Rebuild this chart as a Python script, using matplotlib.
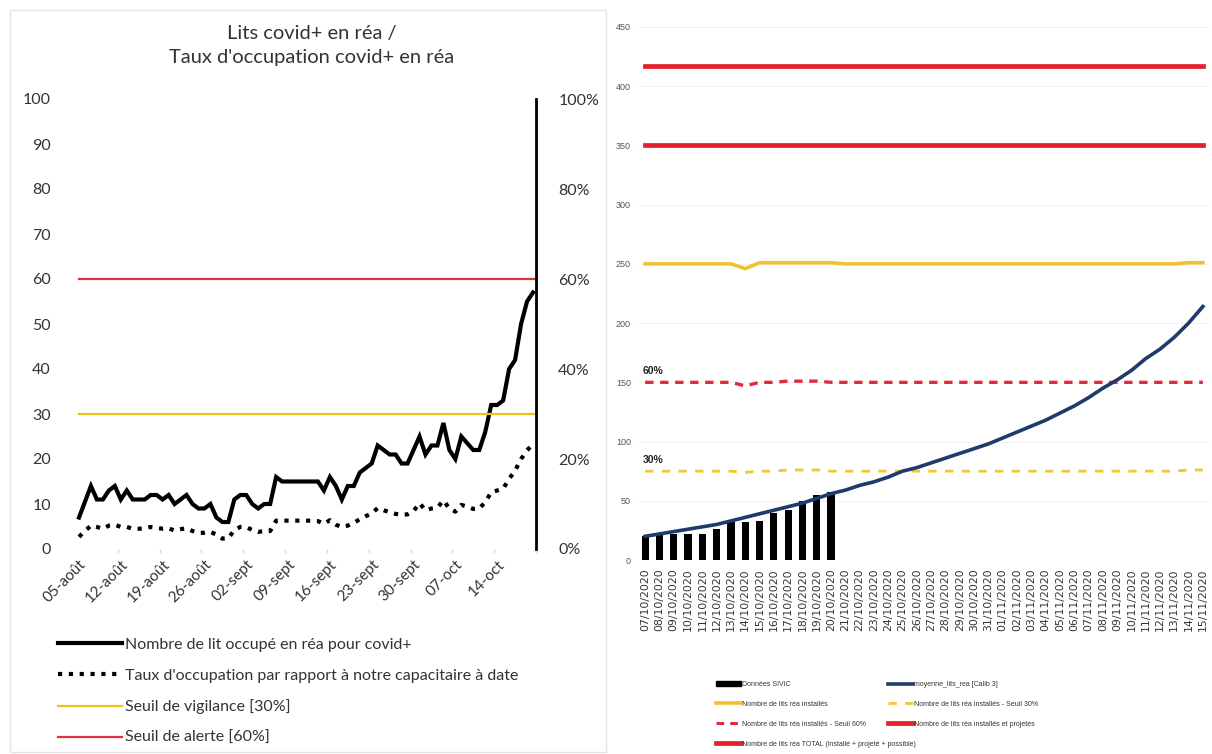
import matplotlib
matplotlib.use("Agg")
import matplotlib.pyplot as plt
from matplotlib.lines import Line2D
from matplotlib.patches import Patch, Rectangle
import numpy as np

# ---------------- LEFT CHART DATA ----------------
left_tick_labels = ['05-août', '12-août', '19-août', '26-août', '02-sept', '09-sept',
                    '16-sept', '23-sept', '30-sept', '07-oct', '14-oct']
lits_covid = [7, 10.5, 14, 11, 11, 13, 14, 11, 13, 11,
              11, 11, 12, 12, 11, 12, 10, 11, 12, 10,
              9, 9, 10, 7, 6, 6, 11, 12, 12, 10,
              9, 10, 10, 16, 15, 15, 15, 15, 15, 15,
              15, 13, 16, 14, 11, 14, 14, 17, 18, 19,
              23, 22, 21, 21, 19, 19, 22, 25, 21, 23,
              23, 28, 22, 20, 25, 23.5, 22, 22, 26, 32,
              32, 33, 40, 42, 50, 55, 57]
taux_occupation = [2.7, 4.0, 5.2, 4.9, 4.5, 5.2, 5.4, 4.9, 4.9, 4.5,
                   4.5, 4.6, 4.9, 4.7, 4.5, 4.6, 4.1, 4.4, 4.6, 4.0,
                   3.6, 3.6, 3.8, 3.2, 2.3, 2.4, 4.2, 4.9, 4.9, 4.2,
                   3.8, 4.0, 4.0, 6.3, 6.3, 6.3, 6.3, 6.3, 6.3, 6.3,
                   6.2, 5.6, 6.4, 5.4, 4.9, 5.2, 5.8, 6.6, 7.3, 7.9,
                   9.1, 8.6, 8.2, 7.8, 7.6, 7.7, 8.4, 10.2, 8.6, 9.0,
                   9.2, 10.8, 9.0, 8.3, 9.8, 9.4, 8.9, 9.0, 10.4, 12.6,
                   13.0, 13.4, 15.6, 17.4, 20.0, 21.9, 23.4]
seuil_vigilance = 30  # %
seuil_alerte = 60     # %

# ---------------- RIGHT CHART DATA ----------------
right_dates = ['07/10/2020', '08/10/2020', '09/10/2020', '10/10/2020', '11/10/2020',
               '12/10/2020', '13/10/2020', '14/10/2020', '15/10/2020', '16/10/2020',
               '17/10/2020', '18/10/2020', '19/10/2020', '20/10/2020', '21/10/2020',
               '22/10/2020', '23/10/2020', '24/10/2020', '25/10/2020', '26/10/2020',
               '27/10/2020', '28/10/2020', '29/10/2020', '30/10/2020', '31/10/2020',
               '01/11/2020', '02/11/2020', '03/11/2020', '04/11/2020', '05/11/2020',
               '06/11/2020', '07/11/2020', '08/11/2020', '09/11/2020', '10/11/2020',
               '11/11/2020', '12/11/2020', '13/11/2020', '14/11/2020', '15/11/2020']
donnees_sivic = [20, 23, 22, 22, 22, 26, 32, 32, 33, 40, 42, 50, 55, 57]
moyenne_lits_rea = [20, 22, 24, 26, 28, 30, 33, 36, 39, 42,
                    45, 48, 52, 56, 59, 63, 66, 70, 75, 78,
                    82, 86, 90, 94, 98, 103, 108, 113, 118, 124,
                    130, 137, 145, 152, 160, 170, 178, 188, 200, 214]
lits_installes = [250, 250, 250, 250, 250, 250, 250, 246, 251, 251,
                  251, 251, 251, 251, 250, 250, 250, 250, 250, 250,
                  250, 250, 250, 250, 250, 250, 250, 250, 250, 250,
                  250, 250, 250, 250, 250, 250, 250, 250, 251, 251]
seuil_30 = [75, 75, 75, 75, 75, 75, 75, 74, 75, 75,
            76, 76, 76, 75, 75, 75, 75, 75, 75, 75,
            75, 75, 75, 75, 75, 75, 75, 75, 75, 75,
            75, 75, 75, 75, 75, 75, 75, 75, 76, 76]
seuil_60 = [150, 150, 150, 150, 150, 150, 150, 147, 150, 150,
            151, 151, 151, 150, 150, 150, 150, 150, 150, 150,
            150, 150, 150, 150, 150, 150, 150, 150, 150, 150,
            150, 150, 150, 150, 150, 150, 150, 150, 150, 150]
lits_installes_projetes = 350
lits_total = 417

# ---------------- FIGURE ----------------
W, H = 1212, 754
fig = plt.figure(figsize=(W / 100, H / 100), dpi=100)
fig.patch.set_facecolor('white')

left_font = ['Lato', 'DejaVu Sans']
narrow = ['Liberation Sans', 'DejaVu Sans']

def fx(px):
    return px / W

def fy(py):
    return 1 - py / H

# faint chart border (left chart object)
fig.add_artist(Rectangle((fx(10), fy(752)), fx(596), (742) / H, transform=fig.transFigure,
                         fill=False, edgecolor='#e4e4e4', lw=1))

# ---------- left chart ----------
ax = fig.add_axes([fx(76), fy(549), fx(460), 450 / H])
days = np.arange(len(lits_covid))
ax.plot(days, lits_covid, color='black', lw=3, solid_joinstyle='miter', zorder=3)
ax.set_xlim(-0.5, len(lits_covid) - 0.5)
ax.set_ylim(0, 100)
ax.set_yticks(np.arange(0, 101, 10))
ax.tick_params(axis='y', length=0, pad=18, labelsize=11.5, labelcolor='#333333')
for lab in ax.get_yticklabels():
    lab.set_family(left_font)
ax.set_xticks(days[::7])
ax.set_xticklabels(left_tick_labels, rotation=45, ha='right', rotation_mode='anchor',
                   fontsize=11, color='#333333', family=left_font)
ax.set_xticks(np.arange(6.5, len(lits_covid), 7), minor=True)
ax.tick_params(axis='x', which='major', length=0, pad=6)
ax.tick_params(axis='x', which='minor', length=3, color='#d8d8d8', width=1)
for s in ['top', 'left', 'bottom', 'right']:
    ax.spines[s].set_visible(False)

ax2 = ax.twinx()
ax2.plot(days, taux_occupation, color='black', lw=3, linestyle=(0, (1, 1.6)), zorder=3)
ax2.axhline(seuil_vigilance, xmin=0.5 / len(days), xmax=1, color='#e8c31a', lw=1.6)
ax2.axhline(seuil_alerte, xmin=0.5 / len(days), xmax=1, color='#e0323e', lw=1.6)
ax2.set_ylim(0, 100)
ax2.set_yticks(np.arange(0, 101, 20))
ax2.set_yticklabels([f'{v}%' for v in range(0, 101, 20)], family=left_font,
                    fontsize=11.5, color='#333333')
ax2.tick_params(axis='y', length=0, pad=16)
for s in ['top', 'left', 'bottom']:
    ax2.spines[s].set_visible(False)
ax2.spines['right'].set_color('black')
ax2.spines['right'].set_linewidth(2)

fig.text(fx(312), fy(33), 'Lits covid+ en réa /', ha='center', va='center',
         fontsize=14.5, family=left_font, color='#333333')
fig.text(fx(312), fy(58), "Taux d'occupation covid+ en réa", ha='center', va='center',
         fontsize=14.5, family=left_font, color='#333333')

left_handles = [
    Line2D([], [], color='black', lw=3),
    Line2D([], [], color='black', lw=3, linestyle=(0, (1, 1.6))),
    Line2D([], [], color='#e8c31a', lw=1.6),
    Line2D([], [], color='#e0323e', lw=1.6),
]
left_labels = ['Nombre de lit occupé en réa pour covid+',
               "Taux d'occupation par rapport à notre capacitaire à date",
               'Seuil de vigilance [30%]',
               'Seuil de alerte [60%]']
fig.legend(left_handles, left_labels, loc='upper left', bbox_to_anchor=(fx(44), fy(623)),
           frameon=False, prop={'family': left_font, 'size': 11.5}, handlelength=4.0,
           handletextpad=0.2, labelspacing=1.05, labelcolor='#333333')

# ---------- right chart ----------
ar = fig.add_axes([fx(638), fy(560), fx(572), 533 / H])
x = np.arange(len(right_dates))
ar.bar(x[:len(donnees_sivic)], donnees_sivic, width=0.5, color='black', zorder=2)
ar.plot(x, moyenne_lits_rea, color='#1f3a6b', lw=2.6, zorder=4)
ar.plot(x, lits_installes, color='#f2c12e', lw=2.6, zorder=3)
ar.plot(x, seuil_30, color='#f0c832', lw=2.0, linestyle=(0, (3, 3)), zorder=3)
ar.plot(x, seuil_60, color='#e02a3f', lw=2.4, linestyle=(0, (2.5, 2)), zorder=3)
ar.plot(x, [lits_installes_projetes] * len(x), color='#e3202b', lw=3.4, zorder=3)
ar.plot(x, [lits_total] * len(x), color='#e3202b', lw=3.4, zorder=3)
ar.annotate('60%', xy=(x[0], seuil_60[0]), xytext=(-2, 6), textcoords='offset points',
            fontsize=7.5, fontweight='bold', family=narrow, color='#222222')
ar.annotate('30%', xy=(x[0], seuil_30[0]), xytext=(-2, 6), textcoords='offset points',
            fontsize=7.5, fontweight='bold', family=narrow, color='#222222')
ar.set_xlim(-0.5, len(x) - 0.5)
ar.set_ylim(0, 450)
ar.set_yticks(np.arange(0, 451, 50))
ar.tick_params(axis='y', length=0, pad=5, labelsize=6.5, labelcolor='#555555')
for lab in ar.get_yticklabels():
    lab.set_family(narrow)
ar.set_xticks(x)
ar.set_xticklabels(right_dates, rotation=90, fontsize=7.8, family='DejaVu Sans',
                   color='#333333')
ar.tick_params(axis='x', length=0, pad=6)
ar.yaxis.grid(True, color='#f2f2f2', lw=0.8)
ar.set_axisbelow(True)
for s in ['top', 'left', 'bottom', 'right']:
    ar.spines[s].set_visible(False)

col1_handles = [Patch(color='black'),
                Line2D([], [], color='#f2c12e', lw=2.6),
                Line2D([], [], color='#e02a3f', lw=2.2, linestyle=(0, (2.5, 2))),
                Line2D([], [], color='#e3202b', lw=3.4)]
col1_labels = ['Données SIVIC',
               'Nombre de lits réa installés',
               'Nombre de lits réa installés - Seuil 60%',
               'Nombre de lits réa TOTAL (installé + projeté + possible)']
col2_handles = [Line2D([], [], color='#1f3a6b', lw=2.6),
                Line2D([], [], color='#f0c832', lw=2.0, linestyle=(0, (3, 3))),
                Line2D([], [], color='#e3202b', lw=3.4)]
col2_labels = ['moyenne_lits_rea [Calib 3]',
               'Nombre de lits réa installés - Seuil 30%',
               'Nombre de lits réa installés et projetés']
leg_kw = dict(loc='upper left', frameon=False, prop={'family': narrow, 'size': 5},
              handlelength=3.6, handletextpad=0.2, labelspacing=1.85, labelcolor='#333333',
              borderaxespad=0, borderpad=0)
fig.legend(col1_handles, col1_labels, bbox_to_anchor=(fx(716), fy(681)), **leg_kw)
fig.legend(col2_handles, col2_labels, bbox_to_anchor=(fx(888), fy(681)), **leg_kw)

fig.savefig('out.png', dpi=100, facecolor='white')
